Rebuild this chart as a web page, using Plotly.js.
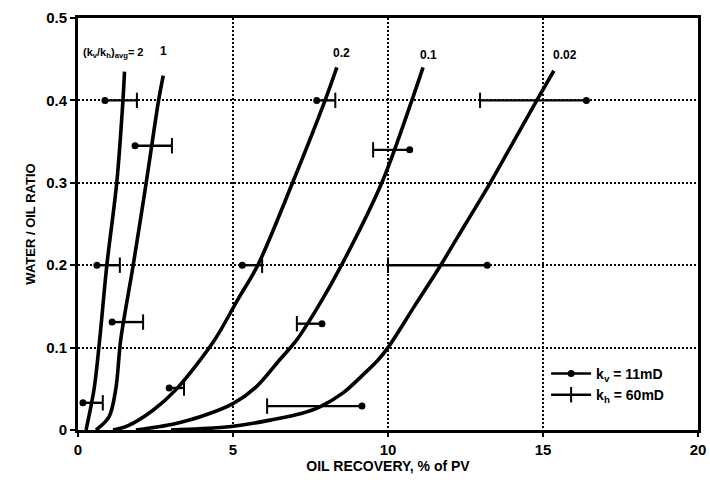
<!DOCTYPE html>
<html>
<head>
<meta charset="utf-8">
<script src="https://cdn.plot.ly/plotly-3.0.1.min.js"></script>
<style>html,body{margin:0;padding:0;background:#fff;}#chart{width:710px;height:483px;}</style>
</head>
<body>
<div id="chart"></div>
<script>
// Curves: oil recovery (% PV) vs water/oil ratio, for (kv/kh)avg values
const curveLabels = ["2", "1", "0.2", "0.1", "0.02"];
const curve2_x   = [0.26, 0.52, 0.70, 0.93, 1.25, 1.45, 1.50];
const curve2_y   = [0.00, 0.05, 0.11, 0.20, 0.30, 0.40, 0.435];
const curve1_x   = [0.58, 1.00, 1.22, 1.38, 1.78, 2.20, 2.60, 2.75];
const curve1_y   = [0.00, 0.016, 0.05, 0.11, 0.20, 0.30, 0.40, 0.43];
const curve02_x  = [1.13, 1.60, 2.42, 3.16, 4.40, 5.15, 5.80, 6.92, 7.97, 8.35];
const curve02_y  = [0.00, 0.005, 0.024, 0.049, 0.109, 0.158, 0.20, 0.30, 0.40, 0.44];
const curve01_x  = [1.87, 2.60, 3.16, 3.94, 5.00, 5.74, 6.50, 7.05, 7.75, 8.50, 9.80, 10.77, 11.13];
const curve01_y  = [0.00, 0.004, 0.008, 0.016, 0.032, 0.052, 0.085, 0.109, 0.15, 0.20, 0.30, 0.40, 0.44];
const curve002_x = [3.00, 4.60, 5.30, 6.20, 7.20, 7.80, 8.55, 9.25, 9.68, 10.00, 10.85, 11.70, 12.50, 13.30, 14.05, 14.80, 15.35];
const curve002_y = [0.00, 0.003, 0.006, 0.012, 0.020, 0.028, 0.045, 0.069, 0.085, 0.10, 0.15, 0.20, 0.25, 0.30, 0.35, 0.40, 0.436];

// Horizontal range bars: kv = 11 mD point and kh = 60 mD point at the same WOR
const barY  = [0.40, 0.40, 0.40, 0.345, 0.34, 0.20, 0.20, 0.20, 0.131, 0.129, 0.051, 0.033, 0.029];
const kvX   = [0.87, 7.70, 16.4, 1.84, 10.7, 0.61, 5.30, 13.2, 1.10, 7.87, 2.94, 0.16, 9.16];
const khX   = [1.90, 8.30, 12.97, 3.03, 9.52, 1.35, 5.94, 10.0, 2.10, 7.06, 3.42, 0.80, 6.10];

const xTicks = [0, 5, 10, 15, 20];
const yTicks = [0, 0.1, 0.2, 0.3, 0.4, 0.5];
const yTickText = ["0", "0.1", "0.2", "0.3", "0.4", "0.5"];

const curves = [
  [curve2_x, curve2_y], [curve1_x, curve1_y], [curve02_x, curve02_y],
  [curve01_x, curve01_y], [curve002_x, curve002_y]
];

const traces = curves.map((c, i) => ({
  x: c[0], y: c[1], mode: "lines", type: "scatter",
  line: {color: "#000", width: 3.6, shape: "spline", smoothing: 0.9},
  showlegend: false, hoverinfo: "skip", name: curveLabels[i]
}));

// segments between kh and kv points
const segX = [], segY = [];
barY.forEach((y, i) => { segX.push(khX[i], kvX[i], null); segY.push(y, y, null); });
traces.push({x: segX, y: segY, mode: "lines", type: "scatter",
  line: {color: "#000", width: 2.4}, showlegend: false, hoverinfo: "skip"});

const kvPX = [], kvPY = [], khPX = [], khPY = [];
barY.forEach((y, i) => {
  kvPX.push(kvX[i], null); kvPY.push(y, null);
  khPX.push(khX[i], null); khPY.push(y, null);
});
traces.push({x: kvPX, y: kvPY, mode: "lines+markers", type: "scatter", connectgaps: false,
  name: "k<sub>v</sub> = 11mD",
  line: {color: "#000", width: 2.4},
  marker: {symbol: "circle", size: 7, color: "#000"}});
traces.push({x: khPX, y: khPY, mode: "lines+markers", type: "scatter", connectgaps: false,
  name: "k<sub>h</sub> = 60mD",
  line: {color: "#000", width: 2.4},
  marker: {symbol: "line-ns", size: 11, color: "#000", line: {color: "#000", width: 2}}});

const fnt = {family: "Liberation Sans, Arial, sans-serif", color: "#000", weight: "bold"};

const annotations = [
  {x: 0.1, y: 0.457, text: "(k<sub>v</sub>/k<sub>h</sub>)<sub>avg</sub>= 2", xanchor: "left", size: 11},
  {x: 2.75, y: 0.46, text: "1", xanchor: "center", size: 12},
  {x: 8.5, y: 0.457, text: "0.2", xanchor: "center", size: 12},
  {x: 11.3, y: 0.455, text: "0.1", xanchor: "center", size: 12},
  {x: 15.7, y: 0.455, text: "0.02", xanchor: "center", size: 12}
].map(a => ({xref: "x", yref: "y", showarrow: false, yanchor: "middle",
  x: a.x, y: a.y, text: a.text, xanchor: a.xanchor,
  font: Object.assign({}, fnt, {size: a.size})}));

const layout = {
  width: 710, height: 483,
  margin: {l: 78, r: 12, t: 18, b: 53},
  paper_bgcolor: "#fff", plot_bgcolor: "#fff",
  font: fnt,
  showlegend: true,
  legend: {x: 0.755, y: 0.175, xanchor: "left", yanchor: "top", bgcolor: "rgba(0,0,0,0)",
    font: Object.assign({}, fnt, {size: 14}), tracegroupgap: 0, itemwidth: 40},
  xaxis: {
    range: [0, 20], tickvals: xTicks, ticktext: xTicks.map(String),
    showline: true, linecolor: "#000", linewidth: 3, mirror: true,
    showgrid: true, gridcolor: "#000", gridwidth: 2, griddash: "2px,2px",
    zeroline: false, ticks: "outside", ticklen: 4, tickwidth: 2, tickcolor: "#000",
    tickfont: Object.assign({}, fnt, {size: 15}),
    title: {text: "OIL RECOVERY, % of PV", font: Object.assign({}, fnt, {size: 14}), standoff: 2}
  },
  yaxis: {
    range: [0, 0.5], tickvals: yTicks, ticktext: yTickText,
    showline: true, linecolor: "#000", linewidth: 3, mirror: true,
    showgrid: true, gridcolor: "#000", gridwidth: 2, griddash: "2px,2px",
    zeroline: false, ticks: "outside", ticklen: 5, tickwidth: 2, tickcolor: "#000",
    tickfont: Object.assign({}, fnt, {size: 15}),
    title: {text: "WATER / OIL RATIO", font: Object.assign({}, fnt, {size: 13}), standoff: 8}
  },
  annotations: annotations
};

Plotly.newPlot("chart", traces, layout, {displayModeBar: false, staticPlot: true});
</script>
</body>
</html>
